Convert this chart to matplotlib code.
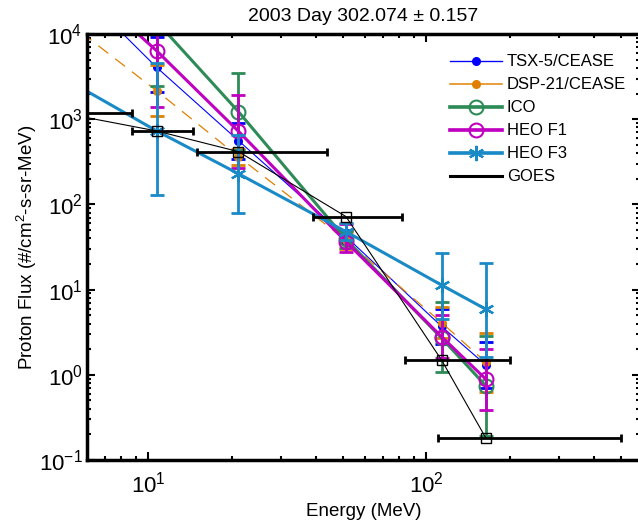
import numpy as np
import matplotlib
matplotlib.use("Agg")
import matplotlib.pyplot as plt
from matplotlib.lines import Line2D

plt.rcParams['font.family'] = ['Liberation Sans', 'DejaVu Sans']
plt.rcParams['mathtext.default'] = 'regular'

# energies (MeV); first entry is the lowest channel, off the left of the plot
energy = [5.0, 10.7, 21.1, 51.4, 113.5, 164.0]

# flux values for each instrument (#/cm2-s-sr-MeV)
tsx5 = [48000, 4070, 560, 42, 3.7, 1.30]
tsx5_lo = [48000, 2070, 344, 35, 2.28, 0.70]
tsx5_hi = [48000, 9290, 910, 50, 6.0, 2.4]

dsp21 = [14700, 2160, 363, 38, 4.1, 1.4]
dsp21_lo = [14700, 1090, 290, 30, 2.7, 0.63]
dsp21_hi = [14700, 4300, 450, 48, 6.3, 3.12]

ico = [np.nan, 14000, 1225, 39, 2.7, 0.74]
ico_lo = [np.nan, 2450, 433, 31, 1.09, 0.19]
ico_hi = [np.nan, 80000, 3460, 49, 7.2, 2.85]

heof1 = [60000, 6370, 721, 36.5, 2.8, 0.885]
heof1_lo = [60000, 1380, 266, 27.9, 1.56, 0.386]
heof1_hi = [60000, 29000, 1940, 58.9, 5.03, 2.0]

heof3 = [3000, 730, 229, 47.9, 11.3, 5.87]
heof3_lo = [3000, 129, 78.7, 38, 4.48, 1.63]
heof3_hi = [3000, 4530, 653, 60, 27.1, 20.7]

goes = [1170, 728, 416, 72, 1.49, 0.18]
goes_e_lo = [4.2, 8.7, 15, 39, 84, 110]
goes_e_hi = [8.7, 14.5, 44, 82, 200, 500]

series = [
    ("TSX-5/CEASE", tsx5, tsx5_lo, tsx5_hi, "#0000ff", 0.8, dict(marker='o', ms=5.5, mfc="#0000ff", mec="#0000ff"), "-"),
    ("DSP-21/CEASE", dsp21, dsp21_lo, dsp21_hi, "#e08000", 0.9, dict(marker='o', ms=5.5, mfc="#e08000", mec="#e08000"), (0, (10, 7))),
    ("ICO", ico, ico_lo, ico_hi, "#2e8b57", 2.2, dict(marker='o', ms=10, mfc='none', mec="#2e8b57", mew=1.5), "-"),
    ("HEO F1", heof1, heof1_lo, heof1_hi, "#c000c0", 2.2, dict(marker='o', ms=10, mfc='none', mec="#c000c0", mew=1.5), "-"),
    ("HEO F3", heof3, heof3_lo, heof3_hi, "#1a8ac6", 2.2, dict(marker=(6, 2, 0), ms=11, mec="#1a8ac6", mew=1.6), "-"),
]

fig = plt.figure(figsize=(6.38, 5.27), dpi=100)
ax = fig.add_axes([86.7 / 638, 67 / 527, (640.5 - 86.7) / 638, 426 / 527])

e = np.array(energy)
handles = []
for name, flux, lo, hi, color, lw, mk, ls in series:
    f = np.array(flux)
    yerr = [f[1:] - np.array(lo)[1:], np.array(hi)[1:] - f[1:]]
    elw = 2.0 if lw > 1.5 else 1.0
    ax.errorbar(e[1:], f[1:], yerr=yerr, fmt='none', ecolor=color, elinewidth=elw,
                capsize=5, capthick=2.0)
    ax.plot(e, f, color=color, lw=lw, linestyle=ls, **mk)
    # legend entries are drawn with solid lines
    handles.append(Line2D([], [], color=color, lw=lw * 1.2, linestyle='-', label=name, **mk))

g = np.array(goes)
xerr = [e - np.array(goes_e_lo), np.array(goes_e_hi) - e]
ax.errorbar(e, g, xerr=xerr, fmt='none', ecolor='black', elinewidth=2.0, capsize=3, capthick=2.0)
ax.plot(e, g, color='black', lw=0.8, marker='s', ms=7, mfc='none', mec='black', mew=1.0)
handles.append(Line2D([], [], color='black', lw=2.2, label="GOES"))

ax.set_xscale('log')
ax.set_yscale('log')
ax.set_xlim(6, 590)
ax.set_ylim(0.1, 1e4)

for s in ax.spines.values():
    s.set_linewidth(2.5)
ax.tick_params(which='both', direction='in', top=True, right=True, labelsize=16, width=1.5)
ax.tick_params(which='major', length=6)
ax.tick_params(which='minor', length=3)
ax.tick_params(axis='x', which='major', pad=8)
ax.tick_params(axis='y', which='major', pad=3)

ax.set_title("2003 Day 302.074 \u00b1 0.157", fontsize=14, pad=9)
ax.set_xlabel("Energy (MeV)", fontsize=13.5, labelpad=4)
ax.set_ylabel("Proton Flux (#/cm$^2$-s-sr-MeV)", fontsize=13.5, labelpad=0)

ax.legend(handles=handles, loc='upper left', bbox_to_anchor=(0.656, 0.952), frameon=False, fontsize=12,
          handlelength=3.1, handletextpad=0.3, labelspacing=0.48, borderpad=0, borderaxespad=0)

fig.savefig("out.png", dpi=100)
